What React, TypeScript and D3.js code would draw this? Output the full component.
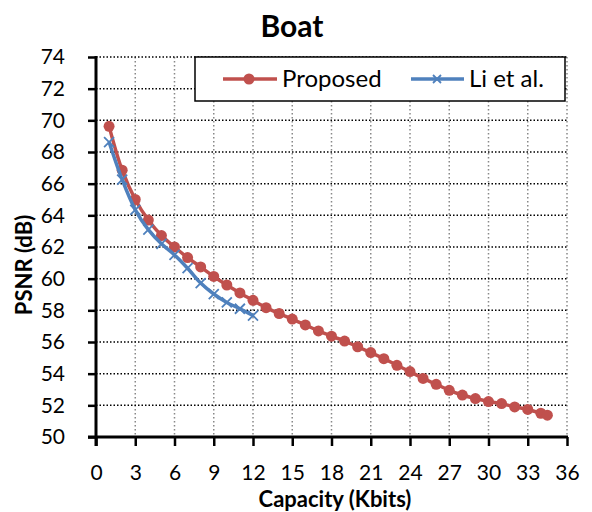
import React, { useEffect, useRef } from 'react';
import * as d3 from 'd3';

// Capacity (Kbits) vs PSNR (dB)
const proposedX = [1, 2, 3, 4, 5, 6, 7, 8, 9, 10, 11, 12, 13, 14, 15, 16, 17, 18, 19, 20, 21, 22, 23, 24, 25, 26, 27, 28, 29, 30, 31, 32, 33, 34, 34.5];
const proposedY = [69.62, 66.85, 65.0, 63.7, 62.72, 62.0, 61.33, 60.74, 60.14, 59.6, 59.1, 58.63, 58.17, 57.8, 57.45, 57.08, 56.7, 56.37, 56.06, 55.7, 55.33, 54.95, 54.53, 54.13, 53.7, 53.33, 52.95, 52.65, 52.43, 52.24, 52.11, 51.9, 51.74, 51.5, 51.38];
const liX = [1, 2, 3, 4, 5, 6, 7, 8, 9, 10, 11, 12];
const liY = [68.63, 66.25, 64.35, 63.1, 62.2, 61.5, 60.66, 59.72, 59.03, 58.5, 58.1, 57.67];
const xTicks = [0, 3, 6, 9, 12, 15, 18, 21, 24, 27, 30, 33, 36];
const yTicks = [50, 52, 54, 56, 58, 60, 62, 64, 66, 68, 70, 72, 74];

const RED = '#C0504D';
const BLUE = '#4F81BD';
const FONT = 'Lato, "Open Sans", sans-serif';

export default function App() {
  const ref = useRef<SVGSVGElement>(null);

  useEffect(() => {
    const svg = d3.select(ref.current);
    svg.selectAll('*').remove();

    const left = 96, right = 567, top = 57, bottom = 437;
    const x = d3.scaleLinear().domain([0, 36]).range([left, right]);
    const y = d3.scaleLinear().domain([50, 74]).range([bottom, top]);

    // grid
    const g = svg.append('g');
    g.selectAll('.vg').data(xTicks.slice(1)).enter().append('line')
      .attr('x1', d => x(d)).attr('x2', d => x(d))
      .attr('y1', top).attr('y2', bottom)
      .attr('stroke', '#888').attr('stroke-width', 1.5).attr('stroke-dasharray', '1.5,2.5');
    g.selectAll('.hg').data(yTicks.slice(1)).enter().append('line')
      .attr('x1', left).attr('x2', right)
      .attr('y1', d => y(d)).attr('y2', d => y(d))
      .attr('stroke', '#000').attr('stroke-width', 1.5).attr('stroke-dasharray', '1.5,2');

    // axes
    const xAxis = d3.axisBottom(x).tickValues(xTicks).tickSize(9).tickFormat(d3.format('d'));
    const yAxis = d3.axisLeft(y).tickValues(yTicks).tickSize(8).tickPadding(23).tickFormat(d3.format('d'));
    const xa = svg.append('g').attr('transform', `translate(0,${bottom})`).call(xAxis);
    const ya = svg.append('g').attr('transform', `translate(${left},0)`).call(yAxis);
    [xa, ya].forEach(a => {
      a.select('.domain').remove();
      a.selectAll('.tick line').attr('stroke', '#000').attr('stroke-width', 2.5);
      a.selectAll('.tick text').attr('font-family', FONT).attr('font-size', 21).attr('fill', '#000');
    });
    xa.selectAll('.tick text').attr('dy', null).attr('y', 43);
    svg.append('line').attr('x1', left - 8).attr('x2', right + 1).attr('y1', bottom).attr('y2', bottom)
      .attr('stroke', '#000').attr('stroke-width', 3);
    svg.append('line').attr('x1', left).attr('x2', left).attr('y1', top - 1).attr('y2', bottom + 9)
      .attr('stroke', '#000').attr('stroke-width', 3);

    // lines
    const line = d3.line<[number, number]>().x(d => x(d[0])).y(d => y(d[1])).curve(d3.curveCatmullRom.alpha(0.5));
    const pData = proposedX.map((v, i) => [v, proposedY[i]] as [number, number]);
    const lData = liX.map((v, i) => [v, liY[i]] as [number, number]);

    svg.append('path').datum(pData).attr('d', line).attr('fill', 'none').attr('stroke', RED).attr('stroke-width', 3.5);
    svg.append('g').selectAll('circle').data(pData).enter().append('circle')
      .attr('cx', d => x(d[0])).attr('cy', d => y(d[1])).attr('r', 5.5).attr('fill', RED);

    svg.append('path').datum(lData).attr('d', line).attr('fill', 'none').attr('stroke', BLUE).attr('stroke-width', 3.5);
    svg.append('g').selectAll('path').data(lData).enter().append('path')
      .attr('d', d => {
        const cx = x(d[0]), cy = y(d[1]), s = 5;
        return `M${cx - s},${cy - s}L${cx + s},${cy + s}M${cx - s},${cy + s}L${cx + s},${cy - s}`;
      })
      .attr('stroke', BLUE).attr('stroke-width', 1.8).attr('fill', 'none');

    // legend
    const lg = svg.append('g');
    lg.append('rect').attr('x', 195).attr('y', 57).attr('width', 370).attr('height', 44)
      .attr('fill', '#fff').attr('stroke', '#000').attr('stroke-width', 1.5);
    lg.append('line').attr('x1', 223).attr('x2', 277).attr('y1', 79).attr('y2', 79).attr('stroke', RED).attr('stroke-width', 3.5);
    lg.append('circle').attr('cx', 249).attr('cy', 79).attr('r', 5.5).attr('fill', RED);
    lg.append('text').attr('x', 282).attr('y', 87).attr('font-family', FONT).attr('font-size', 24).text('Proposed');
    lg.append('line').attr('x1', 411).attr('x2', 464).attr('y1', 79).attr('y2', 79).attr('stroke', BLUE).attr('stroke-width', 3.5);
    lg.append('path').attr('d', 'M433,75L441,83M433,83L441,75').attr('stroke', BLUE).attr('stroke-width', 1.8);
    lg.append('text').attr('x', 469).attr('y', 87).attr('font-family', FONT).attr('font-size', 24).text('Li et al.');

    // titles
    svg.append('text').attr('x', 292).attr('y', 37).attr('text-anchor', 'middle')
      .attr('font-family', FONT).attr('font-weight', 'bold').attr('font-size', 30).text('Boat');
    svg.append('text').attr('x', 335).attr('y', 507).attr('text-anchor', 'middle')
      .attr('font-family', FONT).attr('font-weight', 'bold').attr('font-size', 22).text('Capacity (Kbits)');
    svg.append('text').attr('transform', 'translate(32,265) rotate(-90)').attr('text-anchor', 'middle')
      .attr('font-family', FONT).attr('font-weight', 'bold').attr('font-size', 22).text('PSNR (dB)');
  }, []);

  return (
    <svg ref={ref} width={592} height={512} style={{ position: 'absolute', left: 0, top: 0, background: '#fff' }} />
  );
}
